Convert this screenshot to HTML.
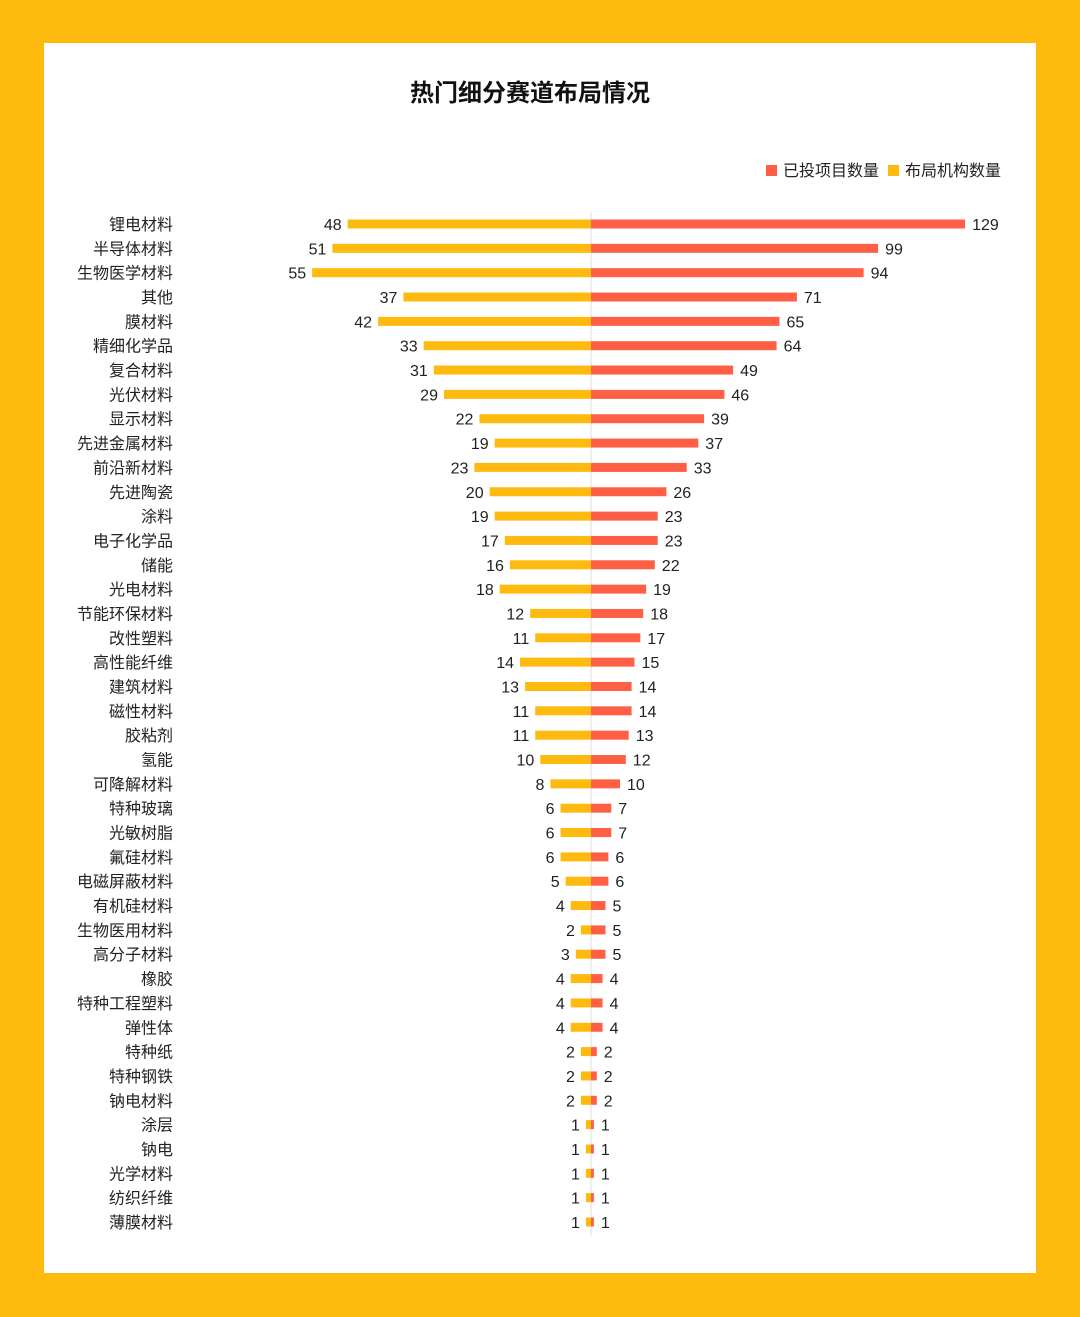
<!DOCTYPE html>
<html><head><meta charset="utf-8"><style>
html,body{margin:0;padding:0;}
body{width:1080px;height:1317px;background:#FFBA0F;position:relative;overflow:hidden;font-family:"Liberation Sans","Noto Sans CJK SC",sans-serif;}
#panel{position:absolute;left:44px;top:43px;width:992px;height:1230px;background:#fff;}
svg text{font-family:"Liberation Sans","Noto Sans CJK SC",sans-serif;}
</style></head><body>
<div id="panel"></div>
<svg id="chart" width="1080" height="1317" style="position:absolute;left:0;top:0">
<text x="530" y="101" text-anchor="middle" font-size="24" font-weight="bold" fill="#111">热门细分赛道布局情况</text>
<g>
<rect x="766" y="165" width="11" height="11" fill="#FF5F45"></rect>
<text x="783" y="176" font-size="16" fill="#222">已投项目数量</text>
<rect x="888" y="165" width="11" height="11" fill="#FFBA0F"></rect>
<text x="905" y="176" font-size="16" fill="#222">布局机构数量</text>
</g>
<line x1="591" y1="212" x2="591" y2="1236" stroke="#ddd" stroke-width="1"></line>
<g id="rows"></g>
</svg>
<script>
const categories=["锂电材料","半导体材料","生物医学材料","其他","膜材料","精细化学品","复合材料","光伏材料","显示材料","先进金属材料","前沿新材料","先进陶瓷","涂料","电子化学品","储能","光电材料","节能环保材料","改性塑料","高性能纤维","建筑材料","磁性材料","胶粘剂","氢能","可降解材料","特种玻璃","光敏树脂","氟硅材料","电磁屏蔽材料","有机硅材料","生物医用材料","高分子材料","橡胶","特种工程塑料","弹性体","特种纸","特种钢铁","钠电材料","涂层","钠电","光学材料","纺织纤维","薄膜材料"];
const institutions=[48,51,55,37,42,33,31,29,22,19,23,20,19,17,16,18,12,11,14,13,11,11,10,8,6,6,6,5,4,2,3,4,4,4,2,2,2,1,1,1,1,1];
const invested=[129,99,94,71,65,64,49,46,39,37,33,26,23,23,22,19,18,17,15,14,14,13,12,10,7,7,6,6,5,5,5,4,4,4,2,2,2,1,1,1,1,1];
const cx=591, y0=224, step=(1222-224)/41;
const xLeft=v=>cx-v*5.07;
const xRight=v=>cx+v*2.9;
const g=document.getElementById('rows');
const NS='http://www.w3.org/2000/svg';
function mk(tag,attrs){const e=document.createElementNS(NS,tag);for(const k in attrs)e.setAttribute(k,attrs[k]);return e;}
categories.forEach((c,i)=>{
  const y=y0+i*step;
  const lab=mk('text',{x:173,y:y+6,'text-anchor':'end','font-size':16,fill:'#222'});
  
  
  lab.textContent=c;g.appendChild(lab);
  const lv=institutions[i],rv=invested[i];
  const b1=mk('rect',{x:xLeft(lv),y:y-4.5,width:cx-xLeft(lv),height:9,fill:'#FFBA0F'});
  
  
  g.appendChild(b1);
  const b2=mk('rect',{x:cx,y:y-4.5,width:xRight(rv)-cx,height:9,fill:'#FF5F45'});
  
  
  g.appendChild(b2);
  const t1=mk('text',{x:xLeft(lv)-6,y:y+6,'text-anchor':'end','font-size':16,fill:'#222'});
  
  
  t1.textContent=lv;g.appendChild(t1);
  const t2=mk('text',{x:xRight(rv)+7,y:y+6,'font-size':16,fill:'#222'});
  
  
  t2.textContent=rv;g.appendChild(t2);
});
</script>
</body></html>
